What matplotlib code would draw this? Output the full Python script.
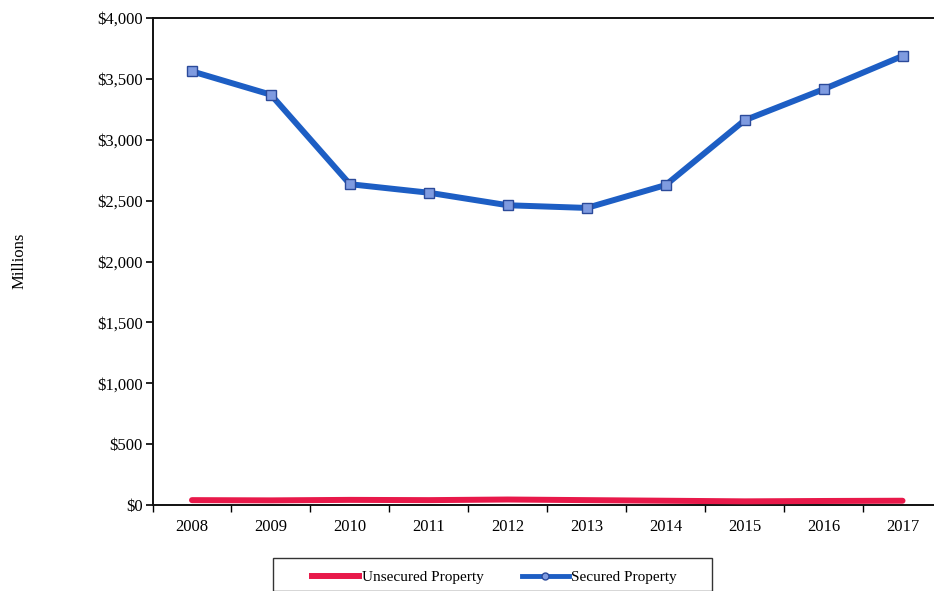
import matplotlib
matplotlib.use("Agg")
import matplotlib.pyplot as plt
import numpy as np
from matplotlib.ticker import FuncFormatter, FixedLocator
from matplotlib.lines import Line2D
from matplotlib.patches import Rectangle

years = ["2008", "2009", "2010", "2011", "2012", "2013", "2014", "2015", "2016", "2017"]
secured = [3562, 3370, 2635, 2565, 2462, 2440, 2628, 3160, 3415, 3688]
unsecured = [40, 38, 42, 40, 45, 40, 35, 30, 33, 35]
y_ticks = [0, 500, 1000, 1500, 2000, 2500, 3000, 3500, 4000]

plt.rcParams["font.family"] = ["Liberation Serif", "DejaVu Serif"]

W, H = 934, 591
fig = plt.figure(figsize=(W / 100, H / 100), dpi=100)
fig.patch.set_facecolor("white")
ax = fig.add_axes([152.5 / W, 86 / H, 789.5 / W, 487 / H])

red = "#e8194a"
blue = "#1d5ec4"

x = np.arange(len(years))
ax.plot(x, unsecured, color=red, lw=4.3, solid_capstyle="round", zorder=3)
ax.plot(x, secured, color=blue, lw=4.3, marker="s", markersize=7.5,
        markerfacecolor="#7f9be0", markeredgecolor="#2b4a9a", markeredgewidth=1.0,
        zorder=4)

ax.set_xlim(-0.5, len(years) - 0.5)
ax.set_ylim(0, 4000)
ax.set_yticks(y_ticks)
ax.yaxis.set_major_formatter(FuncFormatter(lambda v, p: f"${v:,.0f}"))
ax.tick_params(axis="y", labelsize=12, length=5, width=1.2, pad=2, direction="out")

ax.xaxis.set_major_locator(FixedLocator(np.arange(-0.5, len(years), 1.0)))
ax.xaxis.set_major_formatter(FuncFormatter(lambda v, p: ""))
ax.xaxis.set_minor_locator(FixedLocator(x))
ax.set_xticklabels(years, minor=True)
ax.tick_params(axis="x", which="major", length=5, width=1.0, direction="out")
ax.tick_params(axis="x", which="minor", length=0, labelsize=12, pad=10)

for side in ["left", "top", "bottom"]:
    ax.spines[side].set_linewidth(1.4)
    ax.spines[side].set_color("#111111")
ax.spines["right"].set_visible(False)

fig.text(20 / W, 1 - 261 / H, "Millions", rotation=90, ha="center", va="center",
         fontsize=12)

# legend frame (runs off the bottom edge)
fig.patches.append(Rectangle((273 / W, 0), (712 - 273) / W, 1 - 558 / H,
                             transform=fig.transFigure, facecolor="white",
                             edgecolor="#333333", linewidth=1.0, zorder=1))

handles = [
    Line2D([], [], color=red, lw=4.3),
    Line2D([], [], color=blue, lw=3.5, marker="o", markersize=5,
           markerfacecolor="#7f9be0", markeredgecolor="#2b4a9a", markeredgewidth=1.0),
]
leg = fig.legend(handles, ["Unsecured Property", "Secured Property"],
                 loc="center left", bbox_to_anchor=(312 / W, 1 - 577 / H),
                 ncol=2, fontsize=11, frameon=False, borderpad=0, borderaxespad=0,
                 handlelength=3.1, handletextpad=0.15, columnspacing=2.5)
leg.set_zorder(2)

fig.savefig("out.png", dpi=100, facecolor="white")
